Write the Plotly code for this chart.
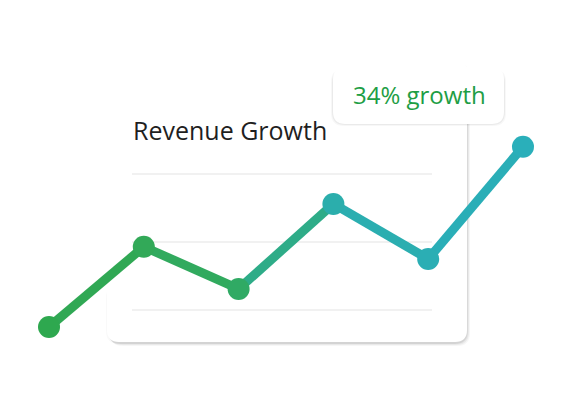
import plotly.graph_objects as go

# ---- data ----
periods = ["P1", "P2", "P3", "P4", "P5", "P6"]
revenue = [7.5, 19.3, 13.1, 25.6, 17.5, 34.0]
grid_values = [10, 20, 30]
title_text = "Revenue Growth"
badge_text = "34% growth"

W, H = 561, 419
# point colours (green -> teal gradient)
point_rgb = [(46, 168, 79), (50, 169, 88), (48, 170, 100), (43, 174, 172), (43, 174, 180), (42, 175, 186)]


def rgb(c):
    return f"rgb({c[0]},{c[1]},{c[2]})"


def mid(a, b):
    return rgb(tuple(round((a[i] + b[i]) / 2) for i in range(3)))


def P(x, y):
    return f"{x / W:.5f},{1 - y / H:.5f}"


def rrect(x0, y0, x1, y1, r):
    return (f"M {P(x0 + r, y0)} L {P(x1 - r, y0)} Q {P(x1, y0)} {P(x1, y0 + r)} "
            f"L {P(x1, y1 - r)} Q {P(x1, y1)} {P(x1 - r, y1)} "
            f"L {P(x0 + r, y1)} Q {P(x0, y1)} {P(x0, y1 - r)} "
            f"L {P(x0, y0 + r)} Q {P(x0, y0)} {P(x0 + r, y0)} Z")


shapes = []
card = (107, 60, 467, 342)
# faint left shadow near the bottom-left corner
shapes.append(dict(type="path", xref="paper", yref="paper", layer="below",
                   path=rrect(card[0] - 1, 285, card[2], card[3] + 2, 13),
                   fillcolor="rgba(0,0,0,0.025)", line=dict(width=0)))
# card shadow + card
for dx, dy, a in [(3, 4, 0.035), (2, 3, 0.05), (1, 2, 0.07)]:
    shapes.append(dict(type="path", xref="paper", yref="paper", layer="below",
                       path=rrect(card[0] + dx, card[1] + dy, card[2] + dx, card[3] + dy, 13),
                       fillcolor=f"rgba(0,0,0,{a})", line=dict(width=0)))
shapes.append(dict(type="path", xref="paper", yref="paper", layer="below",
                   path=rrect(*card, 12), fillcolor="white", line=dict(width=0)))
# grid lines inside the card
for g in grid_values:
    shapes.append(dict(type="line", xref="paper", yref="y", layer="below",
                       x0=132 / W, x1=432 / W, y0=g, y1=g,
                       line=dict(color="#ECECEC", width=1.5)))
# badge shadow + badge
badge = (333, 67, 504, 124)
for dx, dy, a, g in [(0, 4, 0.03, 2), (0, 3, 0.05, 1), (0, 2, 0.07, 0)]:
    shapes.append(dict(type="path", xref="paper", yref="paper", layer="below",
                       path=rrect(badge[0] - g, badge[1] - g + dy, badge[2] + g, badge[3] + g, 13),
                       fillcolor=f"rgba(0,0,0,{a})", line=dict(width=0)))
shapes.append(dict(type="path", xref="paper", yref="paper", layer="below",
                   path=rrect(*badge, 12), fillcolor="white", line=dict(width=0)))

fig = go.Figure()
n = len(periods)
for i in range(n - 1):
    fig.add_trace(go.Scatter(x=periods[i:i + 2], y=revenue[i:i + 2], mode="lines",
                             line=dict(color=mid(point_rgb[i], point_rgb[i + 1]), width=9),
                             hoverinfo="skip", showlegend=False))
fig.add_trace(go.Scatter(x=periods, y=revenue, mode="markers",
                         marker=dict(size=22, color=[rgb(c) for c in point_rgb],
                                     line=dict(width=0)),
                         hoverinfo="skip", showlegend=False))

fig.update_layout(
    width=W, height=H, autosize=False,
    margin=dict(l=0, r=0, t=0, b=0),
    paper_bgcolor="white", plot_bgcolor="rgba(0,0,0,0)",
    shapes=shapes,
    xaxis=dict(visible=False, range=[-0.517, 5.401], fixedrange=True),
    yaxis=dict(visible=False, range=[-6.03, 55.59], fixedrange=True),
    annotations=[
        dict(xref="paper", yref="paper", x=131 / W, y=1 - 130 / H, text=title_text,
             showarrow=False, xanchor="left", yanchor="middle",
             font=dict(family="Open Sans", size=25, color="#1f1f1f")),
        dict(xref="paper", yref="paper", x=419 / W, y=1 - 95 / H, text=badge_text,
             showarrow=False, xanchor="center", yanchor="middle",
             font=dict(family="Open Sans", size=24, color="#1E9E45")),
    ],
)

fig.write_html("out.html", config={"displayModeBar": False, "staticPlot": True},
               post_script="document.body.style.margin='0';")
